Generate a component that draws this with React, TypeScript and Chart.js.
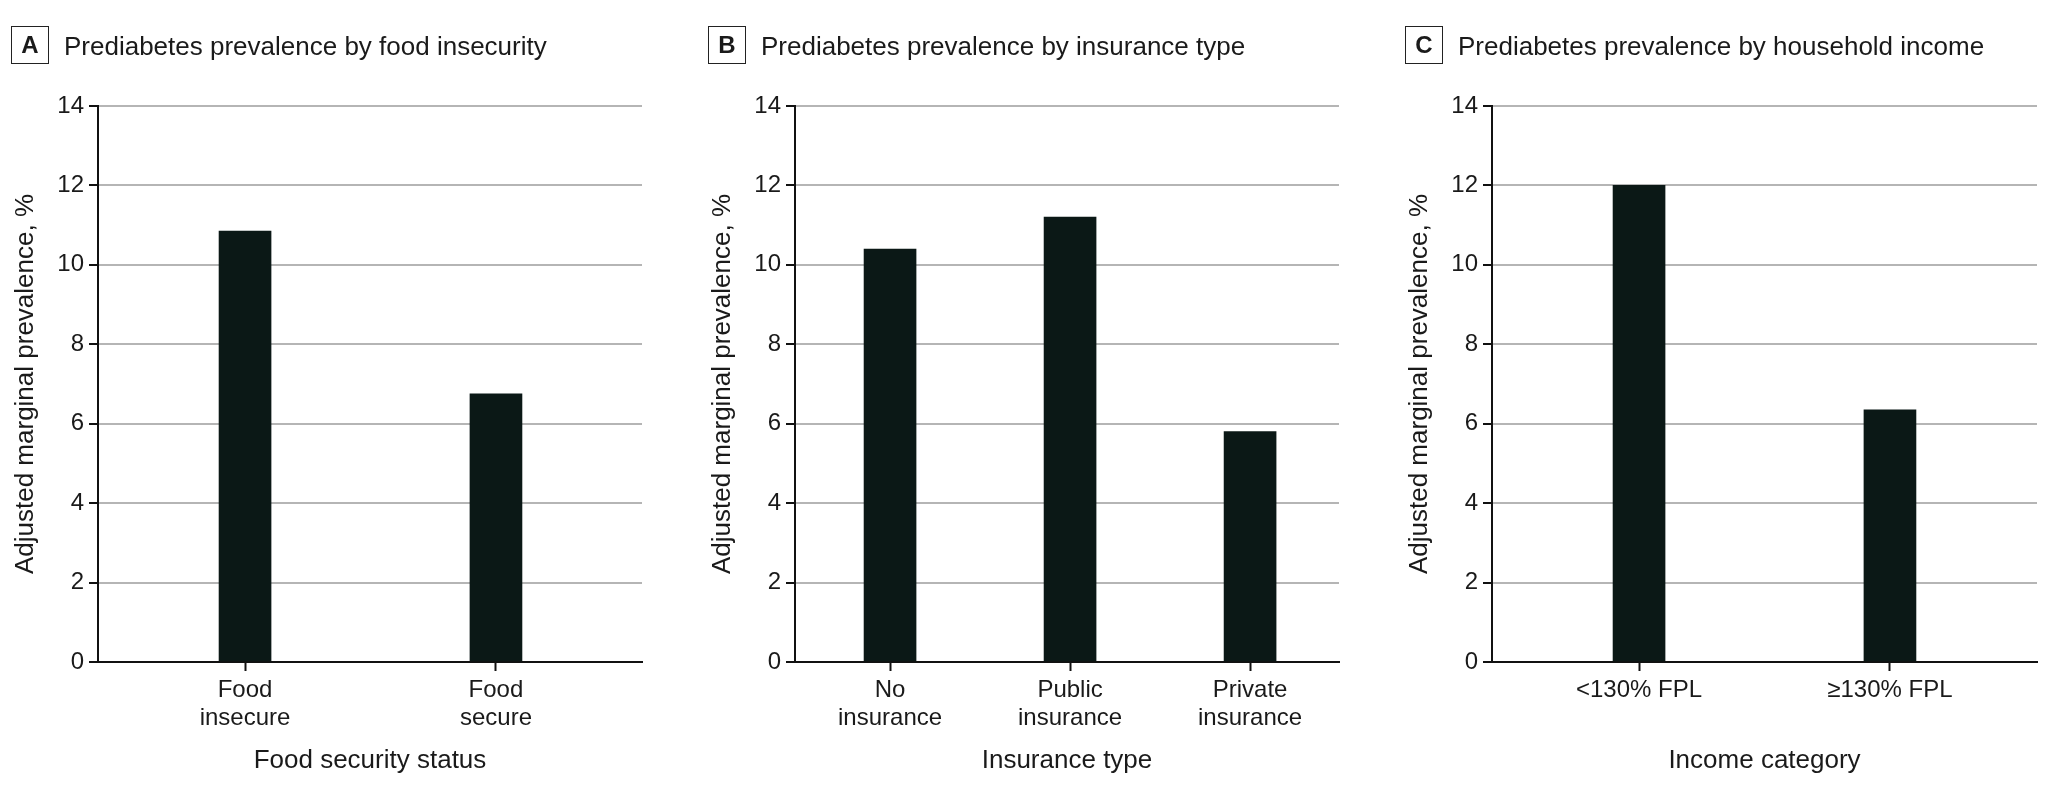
import React, { useEffect, useRef } from "react";
import { Chart, registerables } from "chart.js";

Chart.register(...registerables);

// ---------- data ----------
const yTicks = [0, 2, 4, 6, 8, 10, 12, 14];
const yAxisTitle = "Adjusted marginal prevalence, %";

const panelLetters = ["A", "B", "C"];
const panelTitles = [
  "Prediabetes prevalence by food insecurity",
  "Prediabetes prevalence by insurance type",
  "Prediabetes prevalence by household income",
];
const xAxisTitles = ["Food security status", "Insurance type", "Income category"];

const foodLabels = [["Food", "insecure"], ["Food", "secure"]];
const foodValues = [10.85, 6.75];

const insuranceLabels = [["No", "insurance"], ["Public", "insurance"], ["Private", "insurance"]];
const insuranceValues = [10.4, 11.2, 5.8];

const incomeLabels = ["<130% FPL", "≥130% FPL"];
const incomeValues = [12.0, 6.35];

// ---------- style / layout ----------
const FONT = '"Liberation Sans", Arial, "DejaVu Sans", sans-serif';
const TEXT = "#1a1a1a";
const BAR = "#0b1816";
const GRID = "#b5b5b5";
const AXIS = "#111111";
const Y_AXIS_W = 98;
const PAD_R = 8;
const CANVAS_H = 798;
const PLOT_TOP = 106;
const PLOT_BOTTOM = 662;

type PanelProps = {
  letter: string;
  title: string;
  labels: (string | string[])[];
  values: number[];
  xTitle: string;
  plotLeft: number;
  plotRight: number;
  xMin: number;
  xMax: number;
};

function Panel(p: PanelProps) {
  const ref = useRef<HTMLCanvasElement>(null);
  const left = p.plotLeft - Y_AXIS_W;
  const width = p.plotRight + PAD_R - left;

  useEffect(() => {
    const positions = p.labels.map((_, i) => i + 1);
    const chart = new Chart(ref.current as HTMLCanvasElement, {
      type: "bar",
      data: {
        datasets: [
          {
            data: positions.map((x, i) => ({ x, y: p.values[i] })),
            backgroundColor: BAR,
            borderWidth: 0,
            barThickness: 52,
          } as any,
        ],
      },
      options: {
        animation: false,
        responsive: false,
        layout: { padding: { top: PLOT_TOP, right: PAD_R, bottom: 0, left: 0 } },
        plugins: {
          legend: { display: false },
          tooltip: { enabled: false },
          title: { display: false },
        },
        scales: {
          x: {
            type: "linear",
            min: p.xMin,
            max: p.xMax,
            offset: false,
            afterBuildTicks: (s: any) => {
              s.ticks = positions.map((v) => ({ value: v }));
            },
            afterFit: (s: any) => {
              s.height = CANVAS_H - PLOT_BOTTOM;
            },
            grid: {
              display: true,
              drawOnChartArea: false,
              drawTicks: true,
              tickLength: 9,
              tickColor: AXIS,
              tickWidth: 2,
              offset: false,
            },
            border: { display: true, color: AXIS, width: 2 },
            ticks: {
              padding: 5,
              color: TEXT,
              autoSkip: false,
              maxRotation: 0,
              font: { family: FONT, size: 24, lineHeight: 1.17 },
              callback: (v: any) => p.labels[Math.round(Number(v)) - 1] ?? "",
            },
            title: {
              display: true,
              text: p.xTitle,
              color: TEXT,
              font: { family: FONT, size: 26, lineHeight: 1.2 },
              padding: { top: 0, bottom: 22 },
            },
          } as any,
          y: {
            min: 0,
            max: 14,
            afterBuildTicks: (s: any) => {
              s.ticks = yTicks.map((v) => ({ value: v }));
            },
            afterFit: (s: any) => {
              s.width = Y_AXIS_W;
            },
            grid: {
              color: GRID,
              lineWidth: 2,
              drawTicks: true,
              tickLength: 9,
              tickColor: AXIS,
              tickWidth: 2,
            },
            border: { display: true, color: AXIS, width: 2 },
            ticks: {
              padding: 5,
              color: TEXT,
              font: { family: FONT, size: 24 },
            },
            title: {
              display: true,
              text: yAxisTitle,
              color: TEXT,
              font: { family: FONT, size: 26, lineHeight: 1.2 },
              padding: { top: 10, bottom: 0 },
            },
          } as any,
        },
      },
    });
    return () => chart.destroy();
  }, []);

  const boxLeft = p.plotLeft - 87;
  return (
    <>
      <canvas
        ref={ref}
        width={width}
        height={CANVAS_H}
        style={{ position: "absolute", left, top: 0, width, height: CANVAS_H }}
      />
      <div
        style={{
          position: "absolute",
          left: boxLeft,
          top: 26,
          width: 38,
          height: 38,
          boxSizing: "border-box",
          border: "1.5px solid #222",
          display: "flex",
          alignItems: "center",
          justifyContent: "center",
          fontFamily: FONT,
          fontWeight: "bold",
          fontSize: 24,
          color: TEXT,
        }}
      >
        {p.letter}
      </div>
      <div
        style={{
          position: "absolute",
          left: boxLeft + 53,
          top: 27,
          height: 38,
          lineHeight: "38px",
          fontFamily: FONT,
          fontSize: 26,
          color: TEXT,
          whiteSpace: "nowrap",
        }}
      >
        {p.title}
      </div>
    </>
  );
}

export default function App() {
  const panels: PanelProps[] = [
    {
      letter: panelLetters[0],
      title: panelTitles[0],
      labels: foodLabels,
      values: foodValues,
      xTitle: xAxisTitles[0],
      plotLeft: 98,
      plotRight: 642,
      xMin: 0.414,
      xMax: 2.582,
    },
    {
      letter: panelLetters[1],
      title: panelTitles[1],
      labels: insuranceLabels,
      values: insuranceValues,
      xTitle: xAxisTitles[1],
      plotLeft: 795,
      plotRight: 1339,
      xMin: 0.472,
      xMax: 3.494,
    },
    {
      letter: panelLetters[2],
      title: panelTitles[2],
      labels: incomeLabels,
      values: incomeValues,
      xTitle: xAxisTitles[2],
      plotLeft: 1492,
      plotRight: 2037,
      xMin: 0.414,
      xMax: 2.586,
    },
  ];
  return (
    <div
      style={{
        position: "absolute",
        left: 0,
        top: 0,
        width: 2048,
        height: 798,
        overflow: "hidden",
        background: "#ffffff",
        fontFamily: FONT,
      }}
    >
      {panels.map((p) => (
        <Panel key={p.letter} {...p} />
      ))}
    </div>
  );
}
